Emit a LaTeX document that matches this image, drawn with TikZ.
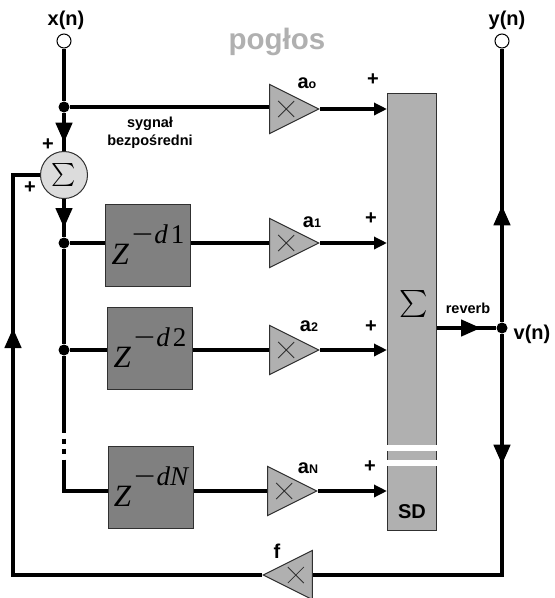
\documentclass[tikz,border=0pt]{standalone}
\usepackage{amsmath,amssymb}
\usepackage{fontspec}
\setmainfont{Liberation Sans}
\newfontfamily\delayfont{Liberation Serif}
\usepackage{tikz}
\usetikzlibrary{
	positioning,
	arrows.meta,
	shapes.geometric,
	decorations.markings
}
\definecolor{boxgray}{HTML}{808080}
\definecolor{bargray}{HTML}{B0B0B0}
\definecolor{sumgray}{HTML}{DCDCDC}
\definecolor{edgegray}{HTML}{303030}
\tikzset{
	signal/.style={
		line width=4.4pt
	},
	entry/.style={
		signal,
		-{Triangle[length=13pt,width=12pt]}
	},
	flowtip/.style={
		postaction={decorate},
		decoration={
			markings,
			mark=at position #1 with {\arrow{Triangle[length=20pt,width=16pt]}}
		}
	},
	port/.style={
		circle,draw=black,fill=white,line width=1pt,
		minimum size=14pt,inner sep=0pt
	},
	junction/.style={
		circle,fill=black,minimum size=11pt,inner sep=0pt
	},
	adder/.style={
		circle,draw=edgegray,fill=sumgray,line width=1pt,
		minimum size=47pt,inner sep=0pt
	},
	delaybox/.style={
		rectangle,draw=edgegray,fill=boxgray,line width=1pt,
		minimum width=85pt,minimum height=82pt,inner sep=0pt
	},
	gain/.style={
		isosceles triangle,isosceles triangle stretches,
		draw=edgegray,fill=bargray,line width=1pt,
		minimum width=49pt,minimum height=49pt,inner sep=0pt,
		path picture={
			\draw[line width=.8pt,edgegray]
				([xshift=#1pt-8pt,yshift=-8pt]path picture bounding box.center) --
				([xshift=#1pt+8pt,yshift=8pt]path picture bounding box.center)
				([xshift=#1pt-8pt,yshift=8pt]path picture bounding box.center) --
				([xshift=#1pt+8pt,yshift=-8pt]path picture bounding box.center);
		}
	},
	gain/.default=-8,
	mixer/.style={
		rectangle,draw=edgegray,fill=bargray,line width=1pt,
		minimum width=49pt,minimum height=437pt,inner sep=0pt
	},
	gap/.style={
		rectangle,fill=white,minimum width=53pt,minimum height=6pt,inner sep=0pt
	},
	tag/.style={
		inner sep=0pt,font=\bfseries\fontsize{20}{20}\selectfont
	},
	note/.style={
		inner sep=0pt,align=center,font=\bfseries\fontsize{14.5}{18}\selectfont
	}
}
\newcommand{\delayterm}[1]{%
	{\delayfont\fontsize{31}{31}\selectfont\itshape Z}\hspace{3pt}%
	\raisebox{21pt}{\delayfont\fontsize{27}{27}\selectfont\scalebox{1.4}[1]{−}\hspace{1pt}\itshape #1}%
}
\newcommand{\gainterm}[1]{%
	a{\fontsize{12.5}{12.5}\selectfont #1}%
}

\begin{document}
\begin{tikzpicture}[x=1pt,y=-1pt]
	\useasboundingbox (0,0) rectangle (555,598);
	\draw
		node [port]     (xn)  at (64,41)   {}
		node [port]     (yn)  at (502,41)  {}
		node [junction] (j0)  at (64,107)  {}
		node [adder]    (sum) at (64,175)  {\scalebox{2.3}{$\sum$}}
		node [junction] (j1)  at (64,243)  {}
		node [junction] (j2)  at (64,350)  {}
		node [junction] (vn)  at (502,328) {}
		node [delaybox] (d1)  at (148,245) {\delayterm{d\hspace{3pt}\upshape 1}}
		node [delaybox] (d2)  at (150,348) {\delayterm{d\hspace{3pt}\upshape 2}}
		node [delaybox] (dN)  at (151,487) {\delayterm{dN}}
		node [mixer]    (mix) at (412,312) {}
		node [gap]      (g1)  at (412,448) {}
		node [gap]      (g2)  at (412,462.5) {}
		node [gain,anchor=apex] (m0) at (320,109) {}
		node [gain,anchor=apex] (m1) at (320,243) {}
		node [gain,anchor=apex] (m2) at (320,350) {}
		node [gain,anchor=apex] (mN) at (318,491) {}
		node [gain=8,anchor=apex,shape border rotate=180] (mf) at (262,575) {}
		coordinate (fb) at (13,175)
		coordinate (br) at (502,575)
	;

	\draw[signal] (xn) -- (j0);
	\draw[signal,flowtip=30pt] (j0) -- (sum);
	\draw[signal,flowtip=29pt] (sum) -- (j1);
	\draw[signal] (j1) -- (j2);
	\draw[signal,dash pattern=on 77pt off 6pt on 5pt off 5pt on 5pt off 6pt on 200pt]
		(j2) |- (mN -| dN.west);
	\draw[signal] (j0) -- (j0 -| m0.west);
	\draw[signal] (j1) -- (d1.west |- j1);
	\draw[signal] (j2) -- (d2.west |- j2);
	\draw[signal] (d1.east |- j1) -- (m1);
	\draw[signal] (d2.east |- j2) -- (m2);
	\draw[signal] (dN.east |- mN) -- (mN);
	\foreach \i in {0,1,2,N} {
		\draw[entry] (m\i.apex) -- (m\i.apex -| mix.west);
	}
	\draw[signal,flowtip=44pt] (mix.east |- vn) -- (vn);
	\draw[signal,flowtip=117pt] (vn) -- (yn);
	\draw[signal,flowtip=131pt] (vn) -- (br) -- (mf);
	\draw[signal,flowtip=496pt] (mf.apex) -| (fb) -- (sum);

	\draw
		node [tag] (xlabel) at (66,20)   {x(n)}
		node [tag] (ylabel) at (507,20)  {y(n)}
		node [tag] (vlabel) at (532,334) {v(n)}
		node [tag] (sd)     at (412,512) {SD}
		node [tag] (flabel) at (277,551) {f}
		node [tag,text=bargray,font=\bfseries\fontsize{29.5}{30}\selectfont] (title) at (277,42) {pogłos}
		node [note] (direct) at (150,133) {sygnał\\bezpośredni}
		node [note] (rev)    at (468,308) {reverb}
		node [inner sep=0pt] (sigma) at (414,304) {\scalebox{2.7}{$\sum$}}
		node [tag] (a0) at (307,83)  {\gainterm{o}}
		node [tag] (a1) at (312,222) {\gainterm{1}}
		node [tag] (a2) at (309,326) {\gainterm{2}}
		node [tag] (aN) at (308,468) {\gainterm{N}}
	;
	\foreach[count=\j] \x/\y in {48/145,30/188,373/80,371/219,371/327,370/467} {
		\node [tag] (plus\j) at (\x,\y) {+};
	}
\end{tikzpicture}
\end{document}
